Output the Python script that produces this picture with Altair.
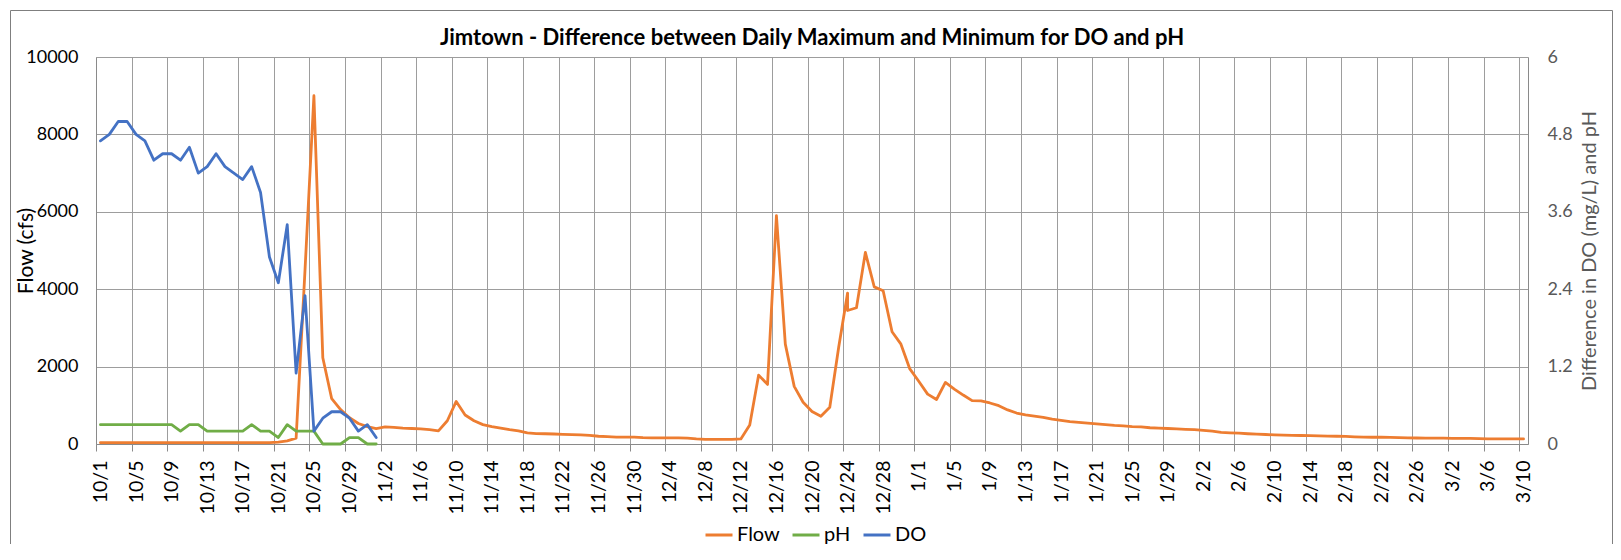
import json
import altair as alt
import pandas as pd

# ---------------- data ----------------
date_labels = [f"{d.month}/{d.day}" for d in pd.date_range("2018-10-01", "2019-03-10")]

# Flow (cfs): one value per date; 12/24 has two readings
flow_dates = (date_labels[:85] + ["12/24"] + date_labels[85:])
flow_vals = [
    35, 35, 35, 35, 35, 35, 35, 35, 35, 35,            # 10/1-10/10
    35, 35, 35, 35, 35, 35, 35, 35, 35, 35,            # 10/11-10/20
    50, 80, 150, 4500, 9000, 2230, 1170, 890, 680, 530,  # 10/21-10/30
    450, 400,                                          # 10/31-11/1
    440, 430, 410, 400, 390, 370, 340, 600, 1100, 750,  # 11/2-11/11
    600, 500, 450, 410, 370, 340, 290, 270, 265, 258,   # 11/12-11/21
    250, 240, 235, 225, 200, 190, 180, 180, 178, 165,   # 11/22-12/1
    160, 160, 160, 158, 150, 130, 120, 120, 120, 120,   # 12/2-12/11
    130, 490, 1780, 1540, 5900, 2580, 1490, 1080, 840, 715,  # 12/12-12/21
    950, 2500, 3900, 3450, 3520, 4950, 4060, 3960, 2900, 2580,  # 12/22-12/30 (12/24 twice)
    1940, 1620, 1290, 1150, 1590, 1420, 1265, 1120, 1115, 1060,  # 12/31-1/9
    990, 880, 800, 750, 720, 690, 640, 610, 580, 560,   # 1/10-1/19
    540, 520, 500, 480, 470, 450, 440, 420, 410, 400,   # 1/20-1/29
    390, 380, 370, 350, 330, 300, 290, 280, 265, 255,   # 1/30-2/8
    245, 235, 230, 225, 220, 215, 210, 205, 200, 195,   # 2/9-2/18
    185, 180, 175, 175, 170, 165, 160, 155, 150, 150,   # 2/19-2/28
    150, 145, 145, 145, 140, 130, 130, 130, 130, 130,   # 3/1-3/10
]

wq_dates = date_labels[:32]  # 10/1-11/1
do_vals = [4.7, 4.8, 5.0, 5.0, 4.8, 4.7, 4.4, 4.5, 4.5, 4.4,
           4.6, 4.2, 4.3, 4.5, 4.3, 4.2, 4.1, 4.3, 3.9, 2.9,
           2.5, 3.4, 1.1, 2.3, 0.2, 0.4, 0.5, 0.5, 0.4, 0.2,
           0.3, 0.1]
ph_vals = [0.3, 0.3, 0.3, 0.3, 0.3, 0.3, 0.3, 0.3, 0.3, 0.2,
           0.3, 0.3, 0.2, 0.2, 0.2, 0.2, 0.2, 0.3, 0.2, 0.2,
           0.1, 0.3, 0.2, 0.2, 0.2, 0.0, 0.0, 0.0, 0.1, 0.1,
           0.0, 0.0]

series_names = ["Flow", "pH", "DO"]
series_colors = ["#ED7D31", "#70AD47", "#4472C4"]
flow_ticks = [0, 2000, 4000, 6000, 8000, 10000]
wq_ticks = [0, 1.2, 2.4, 3.6, 4.8, 6]

day_of = {lab: i for i, lab in enumerate(date_labels)}
flow_df = pd.DataFrame({
    "day": [day_of[d] for d in flow_dates],
    "value": flow_vals,
    "series": "Flow",
    "seq": range(len(flow_vals)),
})
wq_df = pd.concat([
    pd.DataFrame({"day": [day_of[d] for d in wq_dates], "value": ph_vals,
                  "series": "pH", "seq": range(len(ph_vals))}),
    pd.DataFrame({"day": [day_of[d] for d in wq_dates], "value": do_vals,
                  "series": "DO", "seq": range(len(do_vals))}),
])

# ---------------- layout ----------------
W, H = 1432, 387
n_days = len(date_labels)
band = W / n_days
FONT = "Lato"
GRID = "#9d9d9d"
AX = "#8a8a8a"

# category boundaries sit on integers; each date is drawn at the centre of its band
x_tick_vals = list(range(0, n_days, 4))
label_expr = f"{json.dumps(date_labels)}[datum.value]"
x_scale = alt.Scale(domain=[0, n_days], nice=False, zero=False)
x_axis = alt.Axis(
    values=x_tick_vals, labelExpr=label_expr, labelAngle=270,
    labelOffset=band / 2, labelFlush=False, labelOverlap=False,
    labelFont=FONT, labelFontSize=19.5, labelColor="black", labelPadding=9,
    grid=True, gridColor=GRID, gridWidth=1,
    ticks=True, tickSize=7, tickColor=AX, domain=True, domainColor=AX,
)
x_enc = alt.X("pos:Q", scale=x_scale, title=None, axis=x_axis)

color = alt.Color(
    "series:N",
    scale=alt.Scale(domain=series_names, range=series_colors),
    legend=alt.Legend(
        orient="none", legendX=608, legendY=463, direction="horizontal",
        title=None, symbolType="stroke", symbolStrokeWidth=3, symbolSize=729,
        labelFont=FONT, labelFontSize=20, labelColor="black",
        columnPadding=6, labelOffset=3, padding=0,
    ),
)

flow_line = alt.Chart(flow_df).transform_calculate(
    pos="datum.day + 0.5"
).mark_line(
    strokeWidth=2.8, strokeJoin="round", strokeCap="round"
).encode(
    x=x_enc,
    y=alt.Y("value:Q", scale=alt.Scale(domain=[0, 10000], nice=False), axis=alt.Axis(
        values=flow_ticks, format="d", title="Flow (cfs)",
        labelFont=FONT, labelFontSize=18, labelColor="black", labelPadding=18,
        ticks=False, domain=True, domainColor=AX,
        grid=True, gridColor=GRID, gridWidth=1,
        titleFont=FONT, titleFontSize=21, titleFontWeight="normal", titleColor="black",
        titleAngle=270, titleX=-64, titleY=H / 2, titleAlign="center", titleBaseline="alphabetic",
    )),
    color=color,
    order=alt.Order("seq:Q"),
)

wq_line = alt.Chart(wq_df).transform_calculate(
    pos="datum.day + 0.5"
).mark_line(
    strokeWidth=2.8, strokeJoin="round", strokeCap="round"
).encode(
    x=x_enc,
    y=alt.Y("value:Q", scale=alt.Scale(domain=[0, 6], nice=False), axis=alt.Axis(
        orient="right", values=wq_ticks, format=".2~g",
        title="Difference in DO (mg/L) and pH",
        labelFont=FONT, labelFontSize=18, labelColor="#595959", labelPadding=19,
        ticks=False, domain=True, domainColor=AX, grid=False,
        titleFont=FONT, titleFontSize=20, titleFontWeight="normal", titleColor="#595959",
        titleAngle=270, titleX=67, titleY=H / 2, titleAlign="center", titleBaseline="alphabetic",
    )),
    color=color,
    order=alt.Order("seq:Q"),
)

one = pd.DataFrame({"f": [0]})
frame_style = dict(color="#7f7f7f", strokeWidth=1)
frame_left = alt.Chart(one).mark_rule(**frame_style).encode(
    x=alt.value(-85.5), y=alt.value(-46.5), y2=alt.value(520))
frame_top = alt.Chart(one).mark_rule(**frame_style).encode(
    x=alt.value(-85.5), x2=alt.value(1516.5), y=alt.value(-46.5))
frame_right = alt.Chart(one).mark_rule(**frame_style).encode(
    x=alt.value(1516.5), y=alt.value(-46.5), y2=alt.value(520))

chart = alt.layer(flow_line, wq_line, frame_left, frame_top, frame_right).resolve_scale(
    y="independent"
).properties(
    width=W, height=H,
    autosize=alt.AutoSizeParams(type="none"),
    padding={"left": 88, "top": 49, "right": 85, "bottom": 100},
    title=alt.TitleParams(
        "Jimtown - Difference between Daily Maximum and Minimum for DO and pH",
        font=FONT, fontSize=22, fontWeight="bold", color="black", anchor="middle",
        baseline="alphabetic", offset=0, dy=57,
    ),
).configure_view(stroke=None)

chart.save("out.html", embed_options={"renderer": "svg", "actions": False})
